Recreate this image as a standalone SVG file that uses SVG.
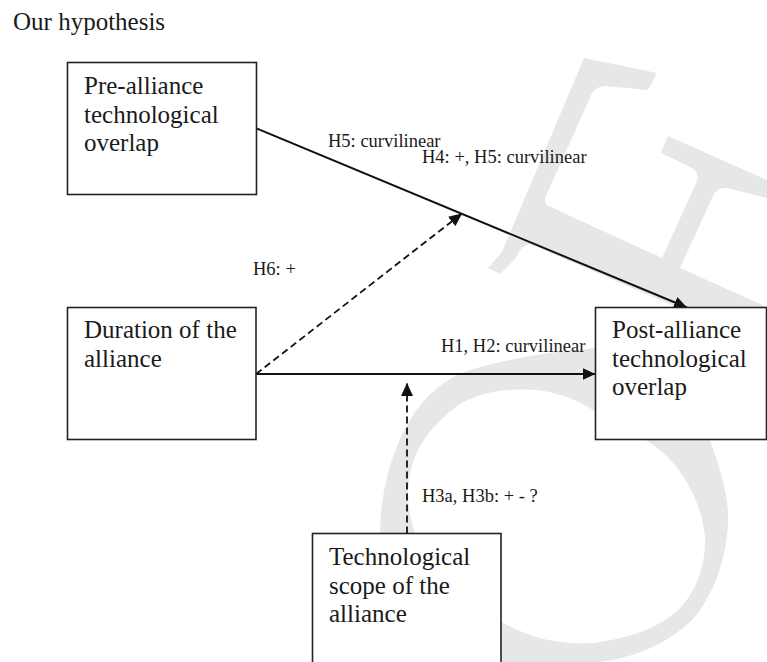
<svg xmlns="http://www.w3.org/2000/svg" width="767" height="662" viewBox="0 0 767 662">
<style>
.wm{fill:#e6e7e8;stroke:none}
.box{fill:#fff;stroke:#222;stroke-width:1.6}
.t{font-family:"Liberation Serif","Times New Roman",serif;font-size:25px;fill:#1a1a1a}
.lbl{font-family:"Liberation Serif","Times New Roman",serif;font-size:18.5px;fill:#1a1a1a}
.solid{stroke:#111;stroke-width:2;fill:none}
.dash{stroke:#111;stroke-width:1.8;fill:none;stroke-dasharray:7,4}
</style>
<defs>
<marker id="arr" markerUnits="userSpaceOnUse" markerWidth="13" markerHeight="12" refX="13" refY="6" orient="auto">
<path d="M0,0 L13,6 L0,12 z" fill="#111"/>
</marker>
</defs>
<rect width="767" height="662" fill="#fff"/>
<g id="watermark">
<path class="wm" d="M584,58 L657,73 L648,90 L606,86 Q593,86 589,100 L546,196 Q542,205 553,208 L662,258 L697,181 Q700,170 688,166 L661,153 L668,136 L767,180 L767,198 L727,188 Q717,187 713,196 L680,268 L767,307 L767,346 L530,244 Q520,246 516,258 L500,274 L488,268 L502,252 Z"/>
<path class="wm" fill-rule="evenodd" d="M600,348 C650,360 690,390 706,430 C720,465 730,500 728,525 C726,560 712,600 690,622 C665,645 630,660 590,663 L540,668 C480,668 430,650 405,610 C385,580 378,555 380,530 C381,490 392,450 410,420 C425,395 445,378 470,370 C510,358 560,350 600,348 Z M510,390 C540,388 565,393 593,410 C620,425 640,435 660,450 C685,472 700,500 705,535 C706,565 697,590 680,608 C660,628 630,638 593,643 C565,645 535,640 507,625 C470,605 440,580 420,545 C408,520 406,495 410,473 C415,450 430,425 460,404 C475,395 492,391 510,390 Z"/>
</g>
<g id="connectors">
<line class="solid" x1="256.5" y1="128.3" x2="687" y2="307.5" marker-end="url(#arr)"/>
<line class="solid" x1="256" y1="374" x2="595.5" y2="374" marker-end="url(#arr)"/>
<line class="dash" x1="256" y1="374" x2="462" y2="213.5" marker-end="url(#arr)"/>
<line class="dash" x1="407" y1="533.5" x2="407" y2="383" marker-end="url(#arr)"/>
<text class="lbl" x="328" y="147">H5: curvilinear</text>
<text class="lbl" x="422" y="163">H4: +, H5: curvilinear</text>
<text class="lbl" x="253" y="275">H6: +</text>
<text class="lbl" x="441" y="352">H1, H2: curvilinear</text>
<text class="lbl" x="422" y="502">H3a, H3b: + - ?</text>
</g>
<text class="t" x="13" y="30">Our hypothesis</text>
<g id="pre">
<rect class="box" x="67.5" y="62.5" width="189" height="132"/>
<text class="t" x="84" y="94">Pre-alliance</text>
<text class="t" x="84" y="122.5">technological</text>
<text class="t" x="84" y="151">overlap</text>
</g>
<g id="duration">
<rect class="box" x="67.5" y="307.5" width="188.5" height="132"/>
<text class="t" x="84" y="338">Duration of the</text>
<text class="t" x="84" y="366.5">alliance</text>
</g>
<g id="post">
<rect class="box" x="595.5" y="307.5" width="171" height="132"/>
<text class="t" x="612" y="338">Post-alliance</text>
<text class="t" x="612" y="366.5">technological</text>
<text class="t" x="612" y="395">overlap</text>
</g>
<g id="scope">
<rect class="box" x="312.5" y="533.5" width="188.5" height="140"/>
<text class="t" x="329" y="565">Technological</text>
<text class="t" x="329" y="593.5">scope of the</text>
<text class="t" x="329" y="622">alliance</text>
</g>
</svg>
